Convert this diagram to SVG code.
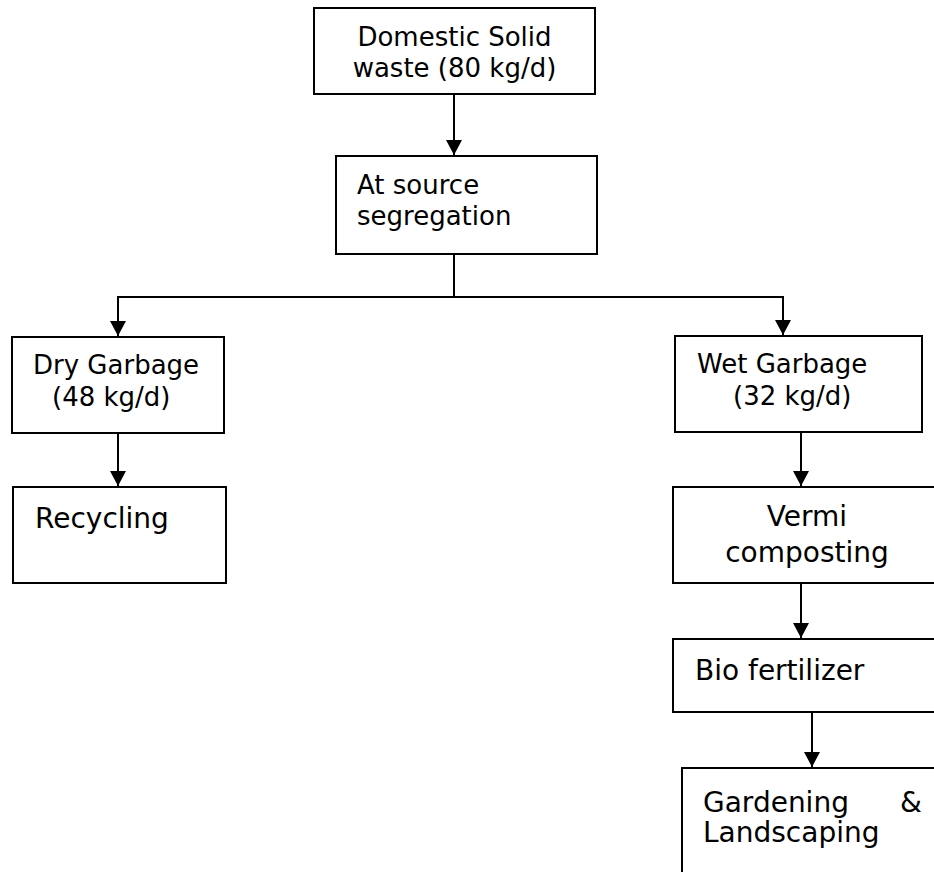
<svg xmlns="http://www.w3.org/2000/svg" width="934" height="872" viewBox="0 0 934 872">
<style>
.box{fill:#fff;stroke:#000;stroke-width:2}
.t26{font-family:"DejaVu Sans","Liberation Sans",sans-serif;font-size:26px;fill:#000}
.t28{font-family:"DejaVu Sans","Liberation Sans",sans-serif;font-size:28px;fill:#000}
.c{text-anchor:middle}
.ln{fill:none;stroke:#000;stroke-width:2}
</style>
<defs>
<marker id="ah" markerUnits="userSpaceOnUse" markerWidth="16" markerHeight="17" refX="15" refY="8" orient="auto" viewBox="0 0 16 16">
<path d="M0,0 L15,8 L0,16 Z" fill="#000"/>
</marker>
</defs>
<g id="connectors">
<line class="ln" x1="454" y1="94" x2="454" y2="155" marker-end="url(#ah)"/>
<polyline class="ln" points="454,254 454,297"/>
<polyline class="ln" points="118,297 783,297"/>
<line class="ln" x1="118" y1="296" x2="118" y2="336" marker-end="url(#ah)"/>
<line class="ln" x1="783" y1="296" x2="783" y2="335" marker-end="url(#ah)"/>
<line class="ln" x1="118" y1="432" x2="118" y2="486" marker-end="url(#ah)"/>
<line class="ln" x1="801" y1="432" x2="801" y2="486" marker-end="url(#ah)"/>
<line class="ln" x1="801" y1="583" x2="801" y2="638" marker-end="url(#ah)"/>
<line class="ln" x1="812" y1="712" x2="812" y2="767" marker-end="url(#ah)"/>
</g>
<g id="domestic">
<rect class="box" x="314" y="8" width="281" height="86"/>
<text class="t26 c" x="454.5" y="46">Domestic Solid</text>
<text class="t26 c" x="454.5" y="77">waste (80 kg/d)</text>
</g>
<g id="segregation">
<rect class="box" x="336" y="156" width="261" height="98"/>
<text class="t26" x="357" y="194">At source</text>
<text class="t26" x="357" y="225">segregation</text>
</g>
<g id="dry">
<rect class="box" x="12" y="337" width="212" height="96"/>
<text class="t26" x="33" y="374">Dry Garbage</text>
<text class="t26" x="52" y="406">(48 kg/d)</text>
</g>
<g id="recycling">
<rect class="box" x="13" y="487" width="213" height="96"/>
<text class="t28" x="35" y="528">Recycling</text>
</g>
<g id="wet">
<rect class="box" x="675" y="336" width="247" height="96"/>
<text class="t26" x="697" y="373">Wet Garbage</text>
<text class="t26" x="733" y="405">(32 kg/d)</text>
</g>
<g id="vermi">
<rect class="box" x="673" y="487" width="270" height="96"/>
<text class="t28 c" x="807" y="526">Vermi</text>
<text class="t28 c" x="807" y="562">composting</text>
</g>
<g id="bio">
<rect class="box" x="673" y="639" width="270" height="73"/>
<text class="t28" x="695" y="680">Bio fertilizer</text>
</g>
<g id="gardening">
<rect class="box" x="682" y="768" width="270" height="120"/>
<text class="t28" x="703" y="812">Gardening</text>
<text class="t28" x="900" y="812">&amp;</text>
<text class="t28" x="703" y="842">Landscaping</text>
</g>
</svg>
